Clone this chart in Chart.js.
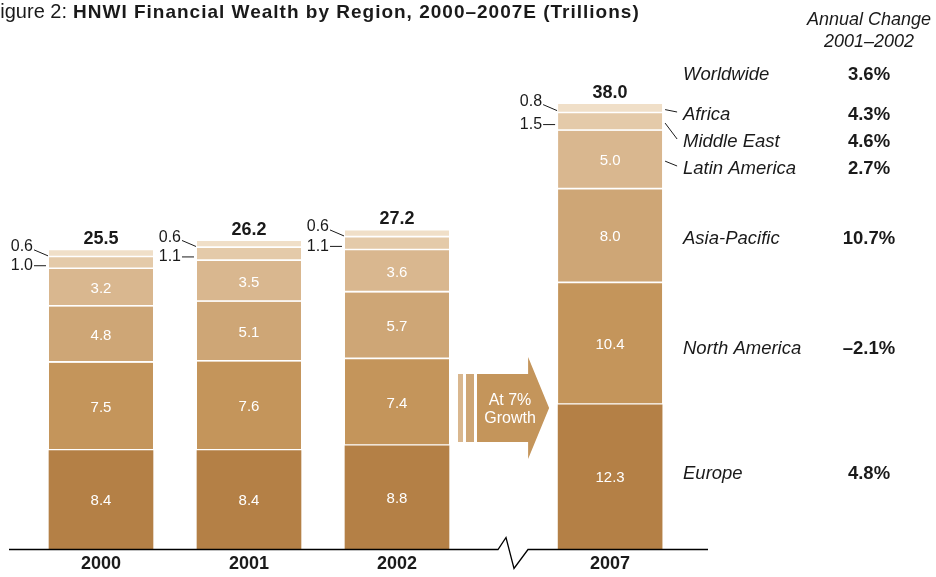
<!DOCTYPE html>
<html>
<head>
<meta charset="utf-8">
<script src="https://cdn.jsdelivr.net/npm/chart.js@4.4.0/dist/chart.umd.min.js"></script>
<style>
  html, body { margin: 0; padding: 0; background: #fff; }
  #wrap { width: 936px; height: 577px; position: relative; }
</style>
</head>
<body>
<div id="wrap"><canvas id="chartWealth"></canvas></div>
<script>
// years on the x axis and where they sit (2007 is pushed right past the break)
const years = ["2000", "2001", "2002", "2007"];
const xSlots = [0, 1, 2, 3.44];

// trillions, stacked bottom to top
const regions = ["Europe", "North America", "Asia-Pacific", "Latin America", "Middle East", "Africa"];
const europe = [8.4, 8.4, 8.8, 12.3];
const northAmerica = [7.5, 7.6, 7.4, 10.4];
const asiaPacific = [4.8, 5.1, 5.7, 8.0];
const latinAmerica = [3.2, 3.5, 3.6, 5.0];
const middleEast = [1.0, 1.1, 1.1, 1.5];
const africa = [0.6, 0.6, 0.6, 0.8];
const totals = ["25.5", "26.2", "27.2", "38.0"];

// annual change 2001-2002, same order as regions
const regionChange = ["4.8%", "\u20132.1%", "10.7%", "2.7%", "4.6%", "4.3%"];
const worldwideChange = "3.6%";

const colors = ["#b48046", "#c4955b", "#cea676", "#d9b78f", "#e4caa9", "#f0dfc8"];
const seriesValues = [europe, northAmerica, asiaPacific, latinAmerica, middleEast, africa];

const FONT = "'Liberation Sans', Arial, Helvetica, sans-serif";
const INK = "#1a1a1a";

const datasets = regions.map((name, i) => ({
  label: name,
  data: seriesValues[i].map((v, j) => ({ x: xSlots[j], y: v })),
  backgroundColor: colors[i],
  borderColor: "#ffffff",
  borderWidth: i === 0 ? 0 : { top: 0, bottom: 2, left: 0, right: 0 },
  borderSkipped: false,
  barThickness: 104,
}));

const decorPlugin = {
  id: "decor",
  afterDatasetsDraw(chart) {
    const ctx = chart.ctx;
    const area = chart.chartArea;
    const metas = regions.map((_, i) => chart.getDatasetMeta(i));
    ctx.save();

    // title
    ctx.fillStyle = INK;
    ctx.textBaseline = "alphabetic";
    ctx.font = "20px " + FONT;
    ctx.textAlign = "right";
    ctx.fillText("Figure 2:", 67, 18);
    ctx.font = "bold 19px " + FONT;
    ctx.textAlign = "left";
    ctx.letterSpacing = "1px";
    ctx.fillText("HNWI Financial Wealth by Region, 2000\u20132007E (Trillions)", 73, 18);
    ctx.letterSpacing = "0px";

    // values inside the big segments
    ctx.textAlign = "center";
    ctx.textBaseline = "middle";
    ctx.font = "15px " + FONT;
    ctx.fillStyle = "#ffffff";
    for (let i = 0; i < 4; i++) {
      metas[i].data.forEach((el, j) => {
        ctx.fillText(seriesValues[i][j].toFixed(1), el.x, (el.y + el.base) / 2 + 1);
      });
    }

    // small segments labelled on the left with leader lines
    ctx.strokeStyle = INK;
    ctx.lineWidth = 1;
    ctx.fillStyle = INK;
    ctx.font = "16px " + FONT;
    ctx.textAlign = "right";
    metas[5].data.forEach((el, j) => {
      const left = el.x - el.width / 2;
      const cy = (el.y + el.base) / 2;
      ctx.fillText(africa[j].toFixed(1), left - 16, cy - 7);
      ctx.beginPath();
      ctx.moveTo(left - 15, cy - 4);
      ctx.lineTo(left - 1, cy + 2);
      ctx.stroke();
    });
    metas[4].data.forEach((el, j) => {
      const left = el.x - el.width / 2;
      const cy = (el.y + el.base) / 2 + 2.5;
      ctx.fillText(middleEast[j].toFixed(1), left - 16, cy);
      ctx.beginPath();
      ctx.moveTo(left - 15, cy);
      ctx.lineTo(left - 3, cy);
      ctx.stroke();
    });

    // totals
    ctx.textAlign = "center";
    ctx.font = "bold 18px " + FONT;
    metas[5].data.forEach((el, j) => {
      ctx.fillText(totals[j], el.x, el.y - 11);
    });

    // growth arrow between 2002 and 2007
    const b2002 = metas[0].data[2];
    const b2007 = metas[0].data[3];
    const ax = b2002.x + b2002.width / 2 + 9;
    const tip = b2007.x - b2007.width / 2 - 9;
    const ay = area.bottom - 141;
    ctx.fillStyle = colors[3];
    ctx.fillRect(ax, ay - 34, 5, 68);
    ctx.fillStyle = colors[2];
    ctx.fillRect(ax + 8, ay - 34, 8, 68);
    ctx.fillStyle = colors[1];
    ctx.beginPath();
    ctx.moveTo(ax + 19, ay - 34);
    ctx.lineTo(tip - 21, ay - 34);
    ctx.lineTo(tip - 21, ay - 51);
    ctx.lineTo(tip, ay);
    ctx.lineTo(tip - 21, ay + 51);
    ctx.lineTo(tip - 21, ay + 34);
    ctx.lineTo(ax + 19, ay + 34);
    ctx.closePath();
    ctx.fill();
    ctx.fillStyle = "#ffffff";
    ctx.font = "16px " + FONT;
    ctx.fillText("At 7%", ax + 52, ay - 7);
    ctx.fillText("Growth", ax + 52, ay + 11);

    // baseline with axis break
    ctx.strokeStyle = "#000";
    ctx.lineWidth = 1.3;
    const by = area.bottom + 0.5;
    ctx.beginPath();
    ctx.moveTo(9, by);
    ctx.lineTo(498, by);
    ctx.lineTo(506, by - 12);
    ctx.lineTo(514, by + 19);
    ctx.lineTo(528, by);
    ctx.lineTo(708, by);
    ctx.stroke();

    // right-hand legend with annual change
    const right = b2007.x + b2007.width / 2;
    const labelX = 683;
    const changeX = 869;
    ctx.fillStyle = INK;
    ctx.font = "italic 18px " + FONT;
    ctx.textAlign = "center";
    ctx.fillText("Annual Change", changeX, 20);
    ctx.fillText("2001\u20132002", changeX, 42);

    const fixedY = { 5: 115, 4: 142, 3: 169 };
    const nudge = { 2: 3, 1: 5, 0: -3 };
    const rows = [{ name: "Worldwide", change: worldwideChange, y: 75 }];
    for (let i = 5; i >= 0; i--) {
      const el = metas[i].data[3];
      const cy = (el.y + el.base) / 2;
      const ly = fixedY[i] !== undefined ? fixedY[i] : cy + nudge[i];
      rows.push({ name: regions[i], change: regionChange[i], y: ly });
      if (fixedY[i] !== undefined) {
        ctx.strokeStyle = INK;
        ctx.lineWidth = 1;
        ctx.beginPath();
        ctx.moveTo(right + 3, cy + 1);
        ctx.lineTo(right + 15, ly - 3);
        ctx.stroke();
      }
    }
    rows.forEach((r) => {
      ctx.textAlign = "left";
      ctx.font = "italic 18.5px " + FONT;
      ctx.fillText(r.name, labelX, r.y);
      ctx.textAlign = "center";
      ctx.font = "bold 18.5px " + FONT;
      ctx.fillText(r.change, changeX, r.y);
    });

    ctx.restore();
  },
};

const chartWealth = new Chart(document.querySelector("#chartWealth"), {
  type: "bar",
  data: { datasets: datasets },
  options: {
    responsive: true,
    maintainAspectRatio: false,
    animation: false,
    layout: { padding: { top: 36, left: 0, right: 0, bottom: -2 } },
    plugins: {
      legend: { display: false },
      tooltip: { enabled: false },
    },
    scales: {
      x: {
        type: "linear",
        stacked: true,
        offset: false,
        min: -0.6824,
        max: 5.642,
        grid: { display: false, offset: false, drawTicks: false },
        border: { display: false },
        afterBuildTicks: (scale) => {
          scale.ticks = xSlots.map((v) => ({ value: v }));
        },
        ticks: {
          autoSkip: false,
          maxRotation: 0,
          padding: 6,
          color: INK,
          font: { family: FONT, size: 18, weight: "bold", lineHeight: 1 },
          callback: (value) => years[xSlots.indexOf(value)],
        },
      },
      y: {
        stacked: true,
        display: false,
        min: 0,
        max: 43.8,
      },
    },
  },
  plugins: [decorPlugin],
});
</script>
</body>
</html>
